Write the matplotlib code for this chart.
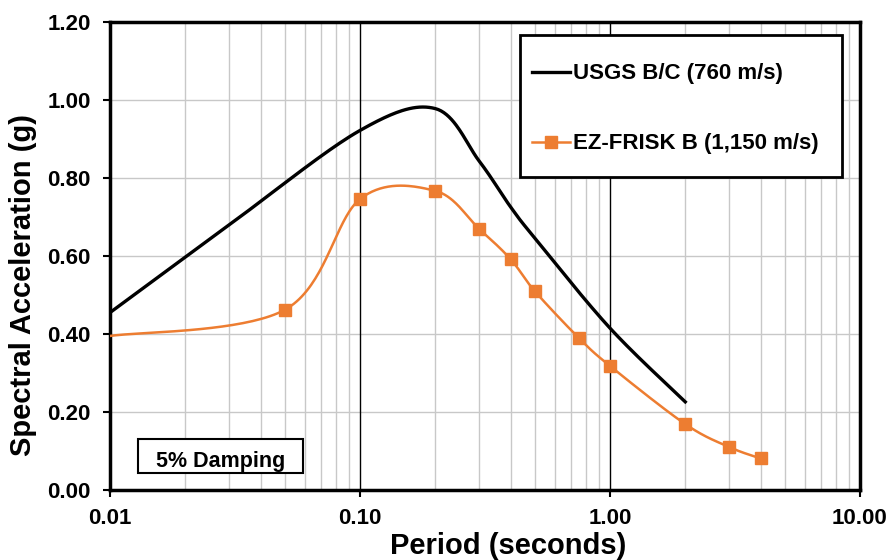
import numpy as np
import matplotlib
matplotlib.use('Agg')
import matplotlib.pyplot as plt
from matplotlib.patches import Rectangle
from matplotlib.lines import Line2D
from matplotlib.ticker import FixedLocator, NullFormatter

# USGS B/C (760 m/s)
usgs_T = [0.01, 0.03, 0.1, 0.2, 0.3, 0.4, 0.5, 1.0, 2.0]
usgs_sa = [0.455, 0.680, 0.922, 0.978, 0.843, 0.726, 0.646, 0.415, 0.226]

# EZ-FRISK B (1,150 m/s)
ez_T = [0.01, 0.05, 0.1, 0.2, 0.3, 0.4, 0.5, 0.75, 1.0, 2.0, 3.0, 4.0]
ez_sa = [0.395, 0.462, 0.746, 0.767, 0.669, 0.592, 0.510, 0.390, 0.318, 0.169, 0.110, 0.081]

series_names = ['USGS B/C (760 m/s)', 'EZ-FRISK B (1,150 m/s)']

y_ticks = [0.0, 0.2, 0.4, 0.6, 0.8, 1.0, 1.2]
x_ticks = [0.01, 0.1, 1.0, 10.0]
x_ticklabels = ['0.01', '0.10', '1.00', '10.00']

orange = '#ED7D31'
plt.rcParams['font.family'] = ['Liberation Sans', 'DejaVu Sans']
plt.rcParams['font.weight'] = 'bold'


def smooth(T, v, n=40):
    # excel-like smoothed line: catmull-rom in (log T, value) space
    px = np.log10(np.array(T, dtype=float))
    py = np.array(v, dtype=float)
    xs, ys = [], []
    for i in range(len(px) - 1):
        p0 = (px[i - 1], py[i - 1]) if i > 0 else (px[i], py[i])
        p1 = (px[i], py[i])
        p2 = (px[i + 1], py[i + 1])
        p3 = (px[i + 2], py[i + 2]) if i + 2 < len(px) else (px[i + 1], py[i + 1])
        c1 = (p1[0] + (p2[0] - p0[0]) / 6, p1[1] + (p2[1] - p0[1]) / 6)
        c2 = (p2[0] - (p3[0] - p1[0]) / 6, p2[1] - (p3[1] - p1[1]) / 6)
        t = np.linspace(0, 1, n)
        bx = (1-t)**3*p1[0] + 3*(1-t)**2*t*c1[0] + 3*(1-t)*t**2*c2[0] + t**3*p2[0]
        by = (1-t)**3*p1[1] + 3*(1-t)**2*t*c1[1] + 3*(1-t)*t**2*c2[1] + t**3*p2[1]
        xs.extend(bx)
        ys.extend(by)
    return 10**np.array(xs), np.array(ys)


fig = plt.figure(figsize=(8.91, 5.6), dpi=100)
ax = fig.add_axes([0.1235, 0.125, 0.8417, 0.8357])

ax.set_xscale('log')
ax.set_xlim(0.01, 10)
ax.set_ylim(0, 1.2)

# grid
minor = [m * 10.0**e for e in (-2, -1, 0) for m in range(2, 10)]
for xv in minor:
    ax.axvline(xv, color='#c8c8c8', lw=1, zorder=0)
for yv in y_ticks[1:-1]:
    ax.axhline(yv, color='#c8c8c8', lw=1, zorder=0)
for xv in [0.1, 1.0]:
    ax.axvline(xv, color='black', lw=1, zorder=0.5)

ux, uy = smooth(usgs_T, usgs_sa)
ax.plot(ux, uy, color='black', lw=2.4, zorder=3)
ex, ey = smooth(ez_T, ez_sa)
ax.plot(ex, ey, color=orange, lw=1.8, zorder=3)
ax.plot(ez_T[1:], ez_sa[1:], 's', color=orange, ms=9, zorder=4)

# legend box (drawn by hand to get excel's spacing)
tr = ax.transAxes
ax.add_patch(Rectangle((0.5467, 0.6688), 0.4293, 0.3034, transform=tr, fc='white',
                       ec='black', lw=2, zorder=5))
ax.add_line(Line2D([0.5627, 0.6133], [0.8932, 0.8932], transform=tr, color='black',
                   lw=2.4, zorder=6))
ax.add_line(Line2D([0.5627, 0.6133], [0.7436, 0.7436], transform=tr, color=orange,
                   lw=1.8, zorder=6))
ax.add_line(Line2D([0.588], [0.7436], transform=tr, color=orange, marker='s', ms=9,
                   zorder=6))
ax.text(0.6173, 0.8782, series_names[0], transform=tr, fontsize=16, fontweight='bold',
        va='baseline', ha='left', zorder=6)
ax.text(0.6173, 0.7286, series_names[1], transform=tr, fontsize=16, fontweight='bold',
        va='baseline', ha='left', zorder=6)

# damping note
ax.add_patch(Rectangle((0.0373, 0.0363), 0.22, 0.0727, transform=tr, fc='white',
                       ec='black', lw=1.5, zorder=5))
ax.text(0.0613, 0.0491, '5% Damping', transform=tr, fontsize=15.5,
        fontweight='bold', va='baseline', ha='left', zorder=6)

ax.xaxis.set_major_locator(FixedLocator(x_ticks))
ax.set_xticklabels(x_ticklabels)
ax.xaxis.set_minor_formatter(NullFormatter())
ax.tick_params(axis='x', which='minor', length=0)
ax.set_yticks(y_ticks)
ax.set_yticklabels(['%.2f' % v for v in y_ticks])
ax.tick_params(axis='both', which='major', labelsize=16, length=5, width=1.5,
               direction='out')
ax.tick_params(axis='x', pad=8)
ax.tick_params(axis='y', pad=9)
for lab in ax.get_xticklabels() + ax.get_yticklabels():
    lab.set_fontweight('bold')

for sp in ax.spines.values():
    sp.set_linewidth(2.5)

ax.set_xlabel('Period (seconds)', fontsize=21, fontweight='bold')
ax.set_ylabel('Spectral Acceleration (g)', fontsize=21, fontweight='bold')
ax.xaxis.set_label_coords(0.531, -0.09)
ax.yaxis.set_label_coords(-0.0973, 0.438)

fig.savefig('out.png', dpi=100)
